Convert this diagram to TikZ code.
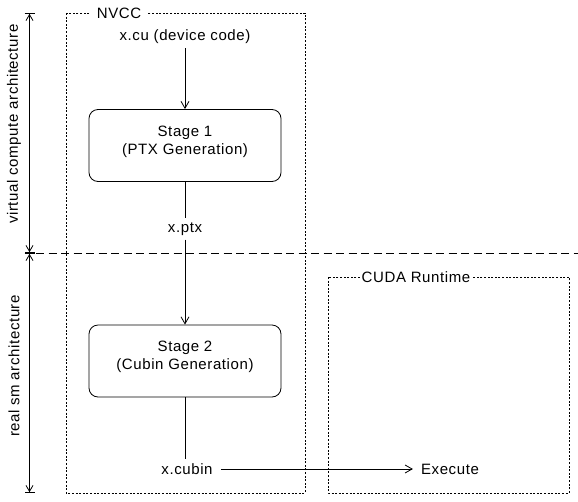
\documentclass[tikz,border=0pt]{standalone}
\usepackage{fontspec}
\setmainfont{Liberation Sans}[LetterSpace=4]
\usetikzlibrary{arrows.meta}
\tikzset{
  stagebox/.style={draw, rounded corners=9pt, line width=0.8pt, minimum width=192pt, minimum height=72pt},
  stagetext/.style={align=center, inner sep=0pt},
  groupbox/.style={draw, dash pattern=on 2pt off 1.6pt, line width=0.7pt},
  grouplabel/.style={fill=white, inner xsep=6pt, inner ysep=1pt},
  flow/.style={-{Straight Barb[length=7pt,width=8pt,line width=0.8pt]}, line width=0.8pt},
  plain/.style={line width=0.8pt},
  dimarrow/.style={{Bar[width=10pt,line width=0.8pt]Straight Barb[length=6pt,width=7pt,line width=0.8pt]}-{Straight Barb[length=6pt,width=7pt,line width=0.8pt]Bar[width=10pt,line width=0.8pt]}, line width=0.8pt},
  sep/.style={dash pattern=on 8pt off 4.5pt, line width=0.8pt},
  txt/.style={inner sep=4pt}
}
\begin{document}
\begin{tikzpicture}[x=1pt,y=-1pt,font=\fontsize{15}{18}\selectfont]
\useasboundingbox (0,0) rectangle (578,501);
% groups
\draw[groupbox] (66,13) rectangle (305,493);
\node[grouplabel] (nvcc) at (119,13) {NVCC};
\draw[groupbox] (328,277) rectangle (569,493);
\node[grouplabel, inner xsep=2pt] (cuda) at (416,277) {CUDA Runtime};
% separator
\coordinate (sepL) at (36,253);
\coordinate (sepR) at (578,253);
\draw[sep] (sepL) -- (sepR);
% dimension arrows
\coordinate (dTop) at (29.5,13);
\coordinate (dMid) at (29.5,253);
\coordinate (dBot) at (29.5,493);
\draw[dimarrow] (dTop) -- (dMid);
\draw[dimarrow] (dMid) -- (dBot);
\node[rotate=90] (virt) at (14,124) {virtual compute architecture};
\node[rotate=90] (real) at (14,366) {real sm architecture};
% flow nodes
\node[txt] (xcu) at (185,37) {x.cu (device code)};
\node[stagebox] (s1) at (185,145.5) {};
\node[stagetext] (s1t) at ([yshift=4pt]s1.center) {Stage 1\\(PTX Generation)};
\node[txt] (xptx) at (185,229) {x.ptx};
\node[stagebox] (s2) at (185,361) {};
\node[stagetext] (s2t) at ([yshift=4pt]s2.center) {Stage 2\\(Cubin Generation)};
\node[txt] (xcubin) at (187,469) {x.cubin};
\node[txt] (exec) at (450,469) {Execute};
% connectors
\draw[flow] (xcu) -- (s1);
\draw[plain] (s1) -- (xptx);
\draw[flow] (xptx) -- (s2);
\draw[plain] (s2) -- (s2.south |- xcubin.north);
\draw[flow, shorten <=4pt, shorten >=4pt] (xcubin) -- (exec);
\end{tikzpicture}
\end{document}
